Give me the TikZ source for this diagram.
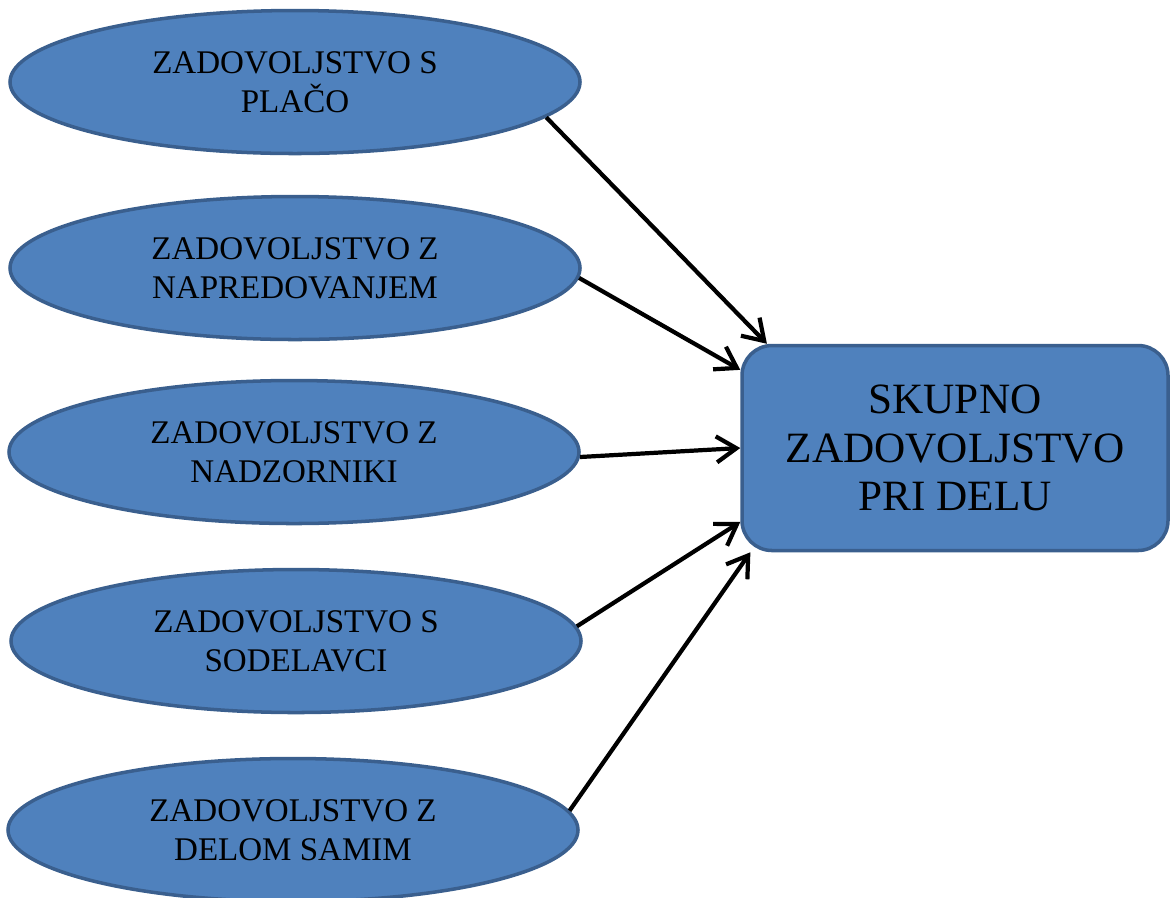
\documentclass[tikz,border=0pt]{standalone}
\usepackage{fontspec}
\setmainfont{Liberation Serif}
\usetikzlibrary{shapes.geometric,arrows.meta}
\definecolor{facetblue}{HTML}{4F81BD}
\definecolor{facetedge}{HTML}{3A5F8E}
\tikzset{
  facet/.style={ellipse, draw=facetedge, fill=facetblue, line width=1pt,
    minimum width=5.7cm, minimum height=1.43cm, inner sep=0pt, align=center,
    font=\fontsize{9.4}{11.2}\selectfont},
  total/.style={rectangle, rounded corners=0.3cm, draw=facetedge, fill=facetblue,
    line width=1pt, minimum width=4.26cm, minimum height=2.05cm, inner sep=0pt,
    align=center, font=\fontsize{12.3}{13.7}\selectfont},
  link/.style={-{Straight Barb[length=0.2cm,width=0.26cm,line width=1.2pt]},
    line width=1.2pt, black}
}
\begin{document}
\begin{tikzpicture}
\useasboundingbox (0,0) rectangle (11.7,-8.97);
\node[facet] (placa) at (2.95,-0.82) {ZADOVOLJSTVO S\\PLAČO};
\node[facet] (napred) at (2.95,-2.68) {ZADOVOLJSTVO Z\\NAPREDOVANJEM};
\node[facet] (nadzor) at (2.94,-4.52) {ZADOVOLJSTVO Z\\NADZORNIKI};
\node[facet] (sodel) at (2.96,-6.41) {ZADOVOLJSTVO S\\SODELAVCI};
\node[facet] (delom) at (2.93,-8.30) {ZADOVOLJSTVO Z\\DELOM SAMIM};
\node[total] (skupno) at (9.55,-4.48) {SKUPNO\\ZADOVOLJSTVO\\PRI DELU};
\draw[link] (placa.-8) -- (skupno.151);
\draw[link] (napred.-2) -- (skupno.160);
\draw[link] (nadzor.-1) -- (skupno.west);
\draw[link] (sodel.3) -- (skupno.199);
\draw[link] (delom.4) -- (skupno.207);
\end{tikzpicture}
\end{document}
